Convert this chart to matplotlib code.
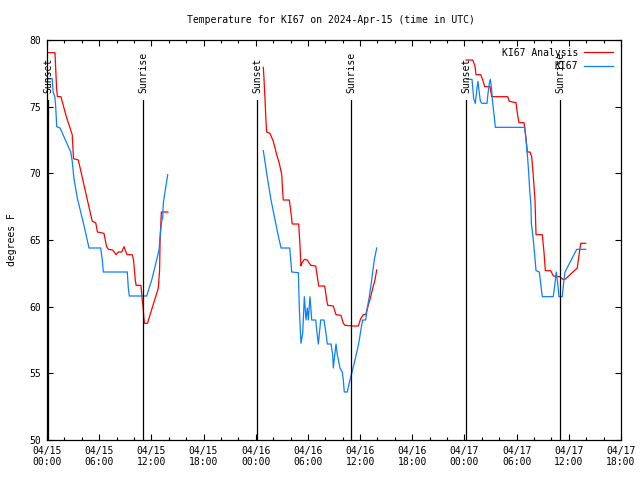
import numpy as np
import matplotlib
matplotlib.use('Agg')
import matplotlib.pyplot as plt
from matplotlib.ticker import MultipleLocator

# hours since 2024-04-15 00:00 UTC, one list per evening
analysis_hours = [
    [0.11, 0.92, 0.95, 1.1, 1.2, 1.6, 2.2, 2.9, 3.05, 3.6, 4.4, 5.2, 5.6, 5.8, 6.55, 6.85,
     7.05, 7.55, 7.95, 8.2, 8.6, 8.85, 9.2, 9.8, 9.95, 10.15, 10.25, 10.8, 10.95, 11.05,
     11.12, 11.2, 11.55, 12.8, 12.95, 13.0, 13.15, 13.9],
    [24.87, 24.95, 25.07, 25.18, 25.26, 25.64, 26.02, 26.41, 26.71, 26.99, 27.1, 27.17,
     27.86, 28.06, 28.2, 28.94, 29.09, 29.2, 29.29, 29.59, 29.93, 30.32, 30.9, 31.08,
     31.24, 31.93, 32.16, 32.28, 32.92, 33.23, 33.8, 34.07, 34.26, 35.22, 35.79, 36.07,
     36.37, 36.64, 36.94, 37.22, 37.52, 37.71, 37.91],
    [48.18, 48.95, 49.21, 49.33, 49.87, 50.1, 50.33, 50.94, 51.13, 52.97, 53.16, 53.93,
     54.08, 54.27, 54.85, 54.96, 55.08, 55.23, 55.54, 55.73, 55.92, 56.11, 56.23, 56.95,
     57.15, 57.3, 57.92, 58.22, 58.99, 59.3, 59.56, 60.97, 61.2, 61.37, 61.94],
]
analysis_temps = [
    [79.05, 79.05, 78.6, 76.4, 75.75, 75.75, 74.3, 72.9, 71.1, 71.0, 68.7, 66.4, 66.3, 65.6,
     65.5, 64.5, 64.3, 64.25, 63.9, 64.1, 64.1, 64.5, 63.9, 63.9, 63.5, 62.0, 61.6, 61.6,
     60.5, 60.0, 59.25, 58.75, 58.75, 61.4, 62.8, 64.9, 67.1, 67.1],
    [77.95, 77.1, 75.5, 73.9, 73.1, 73.0, 72.4, 71.4, 70.75, 69.9, 68.6, 68.0, 68.0, 67.0,
     66.2, 66.2, 64.6, 63.05, 63.25, 63.55, 63.5, 63.1, 63.05, 62.25, 61.55, 61.55, 60.5,
     60.1, 60.05, 59.4, 59.35, 58.75, 58.6, 58.55, 58.55, 59.1, 59.4, 59.4, 60.1, 60.75,
     61.55, 62.0, 62.75],
    [78.5, 78.5, 78.05, 77.4, 77.4, 77.0, 76.5, 76.5, 75.75, 75.75, 75.4, 75.3, 74.5, 73.8,
     73.8, 73.25, 72.6, 71.6, 71.6, 71.25, 69.75, 68.0, 65.4, 65.4, 64.05, 62.7, 62.7,
     62.3, 62.25, 62.05, 62.05, 62.9, 64.0, 64.75, 64.75],
]

obs_hours = [
    [0.11, 0.6, 0.7, 0.9, 1.0, 1.12, 1.5, 2.73, 2.9, 3.1, 3.5, 4.25, 4.83, 6.17, 6.36, 6.47,
     9.23, 9.35, 9.46, 11.46, 12.04, 12.42, 12.88, 13.07, 13.22, 13.3, 13.37, 13.6, 13.88],
    [24.87, 25.15, 25.38, 25.76, 26.22, 26.6, 26.91, 27.91, 28.14, 28.9, 29.01, 29.2, 29.4,
     29.59, 29.78, 29.93, 30.05, 30.24, 30.44, 30.9, 31.01, 31.2, 31.47, 31.85, 32.08,
     32.23, 32.66, 32.85, 32.92, 33.23, 33.38, 33.69, 33.95, 34.07, 34.18, 34.53, 34.76,
     35.04, 35.41, 35.68, 35.91, 36.1, 36.3, 36.64, 36.83, 37.06, 37.25, 37.45, 37.63, 37.91],
    [48.29, 48.87, 49.06, 49.25, 49.44, 49.56, 49.71, 49.83, 50.02, 50.59, 50.71, 50.86,
     50.97, 51.09, 51.25, 51.43, 51.55, 54.93, 55.08, 55.27, 55.39, 55.5, 55.65, 55.69,
     55.92, 56.23, 56.61, 56.88, 56.95, 58.21, 58.41, 58.56, 58.72, 58.87, 59.25, 59.37,
     59.56, 60.91, 61.94],
]
obs_temps = [
    [77.1, 77.1, 76.1, 75.75, 75.0, 73.5, 73.4, 71.6, 70.9, 69.6, 68.1, 66.1, 64.4, 64.4,
     63.5, 62.6, 62.6, 61.4, 60.8, 60.8, 62.0, 63.0, 64.25, 65.75, 66.6, 66.6, 67.75,
     68.75, 69.9],
    [71.7, 70.5, 69.5, 68.0, 66.5, 65.3, 64.4, 64.4, 62.6, 62.55, 59.9, 57.25, 58.0, 60.75,
     59.0, 59.9, 59.0, 60.75, 59.0, 59.0, 58.25, 57.2, 59.0, 59.0, 58.0, 57.2, 57.2, 56.4,
     55.4, 57.2, 56.4, 55.4, 55.1, 54.5, 53.6, 53.6, 54.3, 55.0, 56.0, 56.75, 57.5, 58.3,
     59.0, 59.0, 59.9, 60.75, 61.6, 62.6, 63.5, 64.4],
    [77.05, 77.05, 75.6, 75.25, 76.4, 76.9, 76.0, 75.4, 75.25, 75.25, 76.0, 76.75, 77.05,
     76.5, 75.25, 74.25, 73.45, 73.45, 72.5, 71.1, 70.0, 68.75, 67.5, 66.25, 65.0, 62.7,
     62.6, 61.1, 60.75, 60.75, 61.75, 62.6, 61.75, 60.75, 60.75, 61.6, 62.6, 64.3, 64.3],
]

sun_hours = [0.15, 11.07, 24.18, 35.0, 48.18, 59.02]
sun_labels = ['Sunset', 'Sunrise', 'Sunset', 'Sunrise', 'Sunset', 'Sunrise']

tick_hours = list(range(0, 67, 6))
tick_labels = ['04/15\n00:00', '04/15\n06:00', '04/15\n12:00', '04/15\n18:00',
               '04/16\n00:00', '04/16\n06:00', '04/16\n12:00', '04/16\n18:00',
               '04/17\n00:00', '04/17\n06:00', '04/17\n12:00', '04/17\n18:00']

mono = 'DejaVu Sans Mono'
plt.rcParams['font.family'] = mono
plt.rcParams['font.size'] = 7

fig = plt.figure(figsize=(6.4, 4.8), dpi=100)
ax = fig.add_axes([47 / 640, 40 / 480, 574 / 640, 400 / 480])

for i in range(3):
    ax.plot(analysis_hours[i], analysis_temps[i], color='#ff0000', lw=0.9,
            label='KI67 Analysis' if i == 0 else None)
    ax.plot(obs_hours[i], obs_temps[i], color='#0a80ff', lw=0.9,
            label='KI67' if i == 0 else None)

for h, name in zip(sun_hours, sun_labels):
    ax.plot([h, h], [50, 75.5], color='black', lw=0.9)
    ax.text(h, 76.0, name, rotation=90, ha='center', va='bottom', fontsize=7)

ax.set_xlim(0, 66)
ax.set_ylim(50, 80)
ax.set_xticks(tick_hours)
ax.set_xticklabels(tick_labels)
ax.xaxis.set_minor_locator(MultipleLocator(2))
ax.yaxis.set_major_locator(MultipleLocator(5))
ax.tick_params(which='both', direction='in', top=True, right=True, width=0.8)
ax.tick_params(which='major', length=4, pad=4)
ax.tick_params(which='minor', length=2)
for s in ax.spines.values():
    s.set_linewidth(0.9)

ax.legend(loc='upper right', frameon=False, markerfirst=False, handlelength=3.0,
          borderaxespad=0.8, borderpad=0.0, labelspacing=0.35, handletextpad=0.6,
          fontsize=7)

fig.text(331 / 640, 1 - 20 / 480, 'Temperature for KI67 on 2024-Apr-15 (time in UTC)',
         ha='center', va='center', fontsize=7)
fig.text(12 / 640, 0.5, 'degrees F', rotation=90, ha='center', va='center', fontsize=7)

fig.savefig('out.png', dpi=100)
